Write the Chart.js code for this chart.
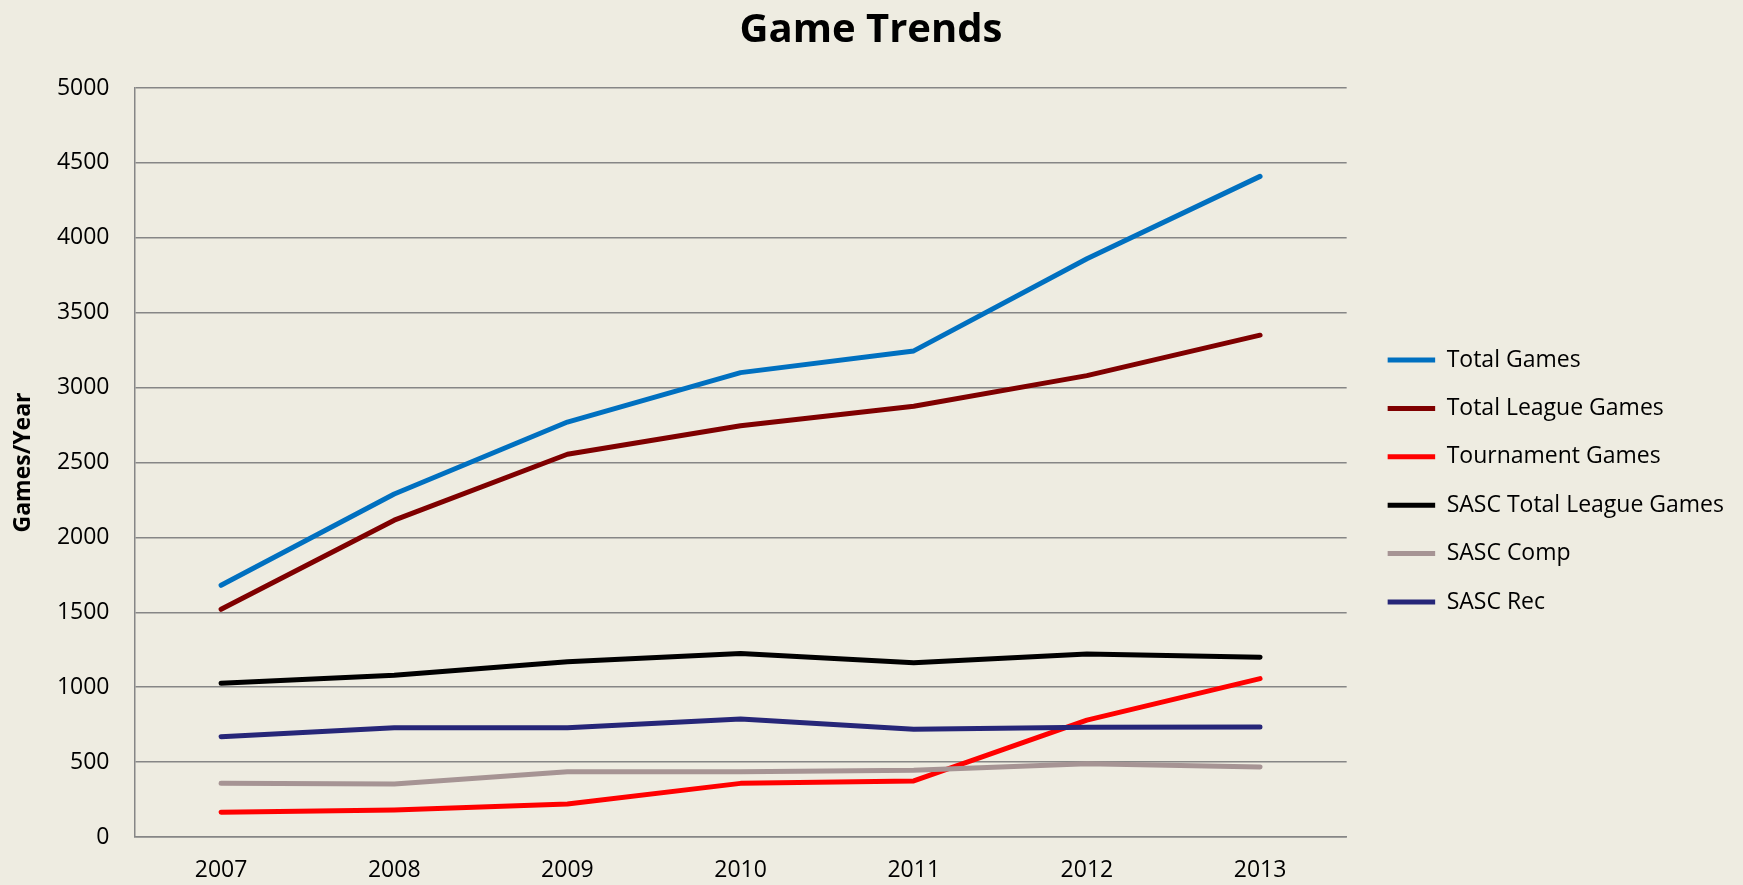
<!DOCTYPE html>
<html>
<head>
<meta charset="utf-8">
<title>Game Trends</title>
<script src="https://cdn.jsdelivr.net/npm/chart.js@4/dist/chart.umd.min.js"></script>
<style>
  html, body { margin: 0; padding: 0; background: #eeece1; }
  #wrap { width: 1743px; height: 885px; position: relative; }
</style>
</head>
<body>
<div id="wrap"><canvas id="trends"></canvas></div>
<script>
const years = ['2007', '2008', '2009', '2010', '2011', '2012', '2013'];
const totalGames = [1680, 2290, 2770, 3100, 3245, 3860, 4410];
const totalLeagueGames = [1520, 2115, 2555, 2745, 2875, 3080, 3350];
const tournamentGames = [165, 180, 220, 358, 374, 780, 1057];
const sascTotalLeague = [1026, 1080, 1170, 1225, 1164, 1222, 1200];
const sascComp = [358, 354, 436, 436, 445, 489, 467];
const sascRec = [670, 730, 730, 788, 719, 732, 734];

const FONT = "'Open Sans', 'DejaVu Sans', sans-serif";
Chart.defaults.font.family = FONT;
Chart.defaults.color = '#000000';

function series(label, data, color, idx) {
  return {
    label: label,
    data: data,
    borderColor: color,
    backgroundColor: color,
    borderWidth: 5,
    borderCapStyle: 'round',
    borderJoinStyle: 'round',
    pointRadius: 0,
    pointHoverRadius: 0,
    tension: 0,
    fill: false,
    // excel paints later series on top
    order: 6 - idx,
  };
}

const ctx = document.getElementById('trends').getContext('2d');
new Chart(ctx, {
  type: 'line',
  data: {
    labels: years,
    datasets: [
      series('Total Games', totalGames, '#0070c0', 0),
      series('Total League Games', totalLeagueGames, '#7f0000', 1),
      series('Tournament Games', tournamentGames, '#ff0000', 2),
      series('SASC Total League Games', sascTotalLeague, '#000000', 3),
      series('SASC Comp', sascComp, '#a69494', 4),
      series('SASC Rec', sascRec, '#262678', 5),
    ],
  },
  options: {
    responsive: true,
    maintainAspectRatio: false,
    animation: false,
    layout: { padding: { top: 0, right: 9, bottom: 0, left: 8 } },
    plugins: {
      title: {
        display: true,
        text: 'Game Trends',
        font: { size: 40, weight: 'bold' },
        color: '#000000',
        padding: { top: 6.5, bottom: 33.5 },
      },
      legend: {
        position: 'right',
        // blank title just pushes the items down
        title: { display: true, text: ' ', font: { size: 10 }, padding: { top: 0, bottom: 65 } },
        labels: {
          sort: (a, b) => a.datasetIndex - b.datasetIndex,
          font: { size: 23 },
          color: '#000000',
          usePointStyle: true,
          pointStyle: 'line',
          pointStyleWidth: 47.5,
          boxHeight: 23,
          padding: 25.4,
        },
      },
      tooltip: { enabled: false },
    },
    scales: {
      x: {
        offset: true,
        grid: { display: false, drawTicks: false },
        border: { display: true, color: '#868686', width: 1.5 },
        ticks: { font: { size: 23 }, color: '#000000', padding: 20 },
        afterFit: (s) => { s.height = 48; },
      },
      y: {
        min: 0,
        max: 5000,
        ticks: {
          stepSize: 500,
          font: { size: 23 },
          color: '#000000',
          padding: 25,
          callback: (v) => String(v),
        },
        grid: { color: '#868686', lineWidth: 1.5, drawTicks: false },
        border: { display: true, color: '#868686', width: 1.5 },
        title: {
          display: true,
          text: 'Games/Year',
          font: { size: 23, weight: 'bold' },
          color: '#000000',
          padding: { top: 2, bottom: 0 },
        },
        afterFit: (s) => { s.width = 126.5; },
      },
      // hidden spacer between plot and legend
      gap: {
        type: 'linear',
        position: 'right',
        display: false,
        afterFit: (s) => { s.width = 15.6; },
      },
    },
  },
});
</script>
</body>
</html>
